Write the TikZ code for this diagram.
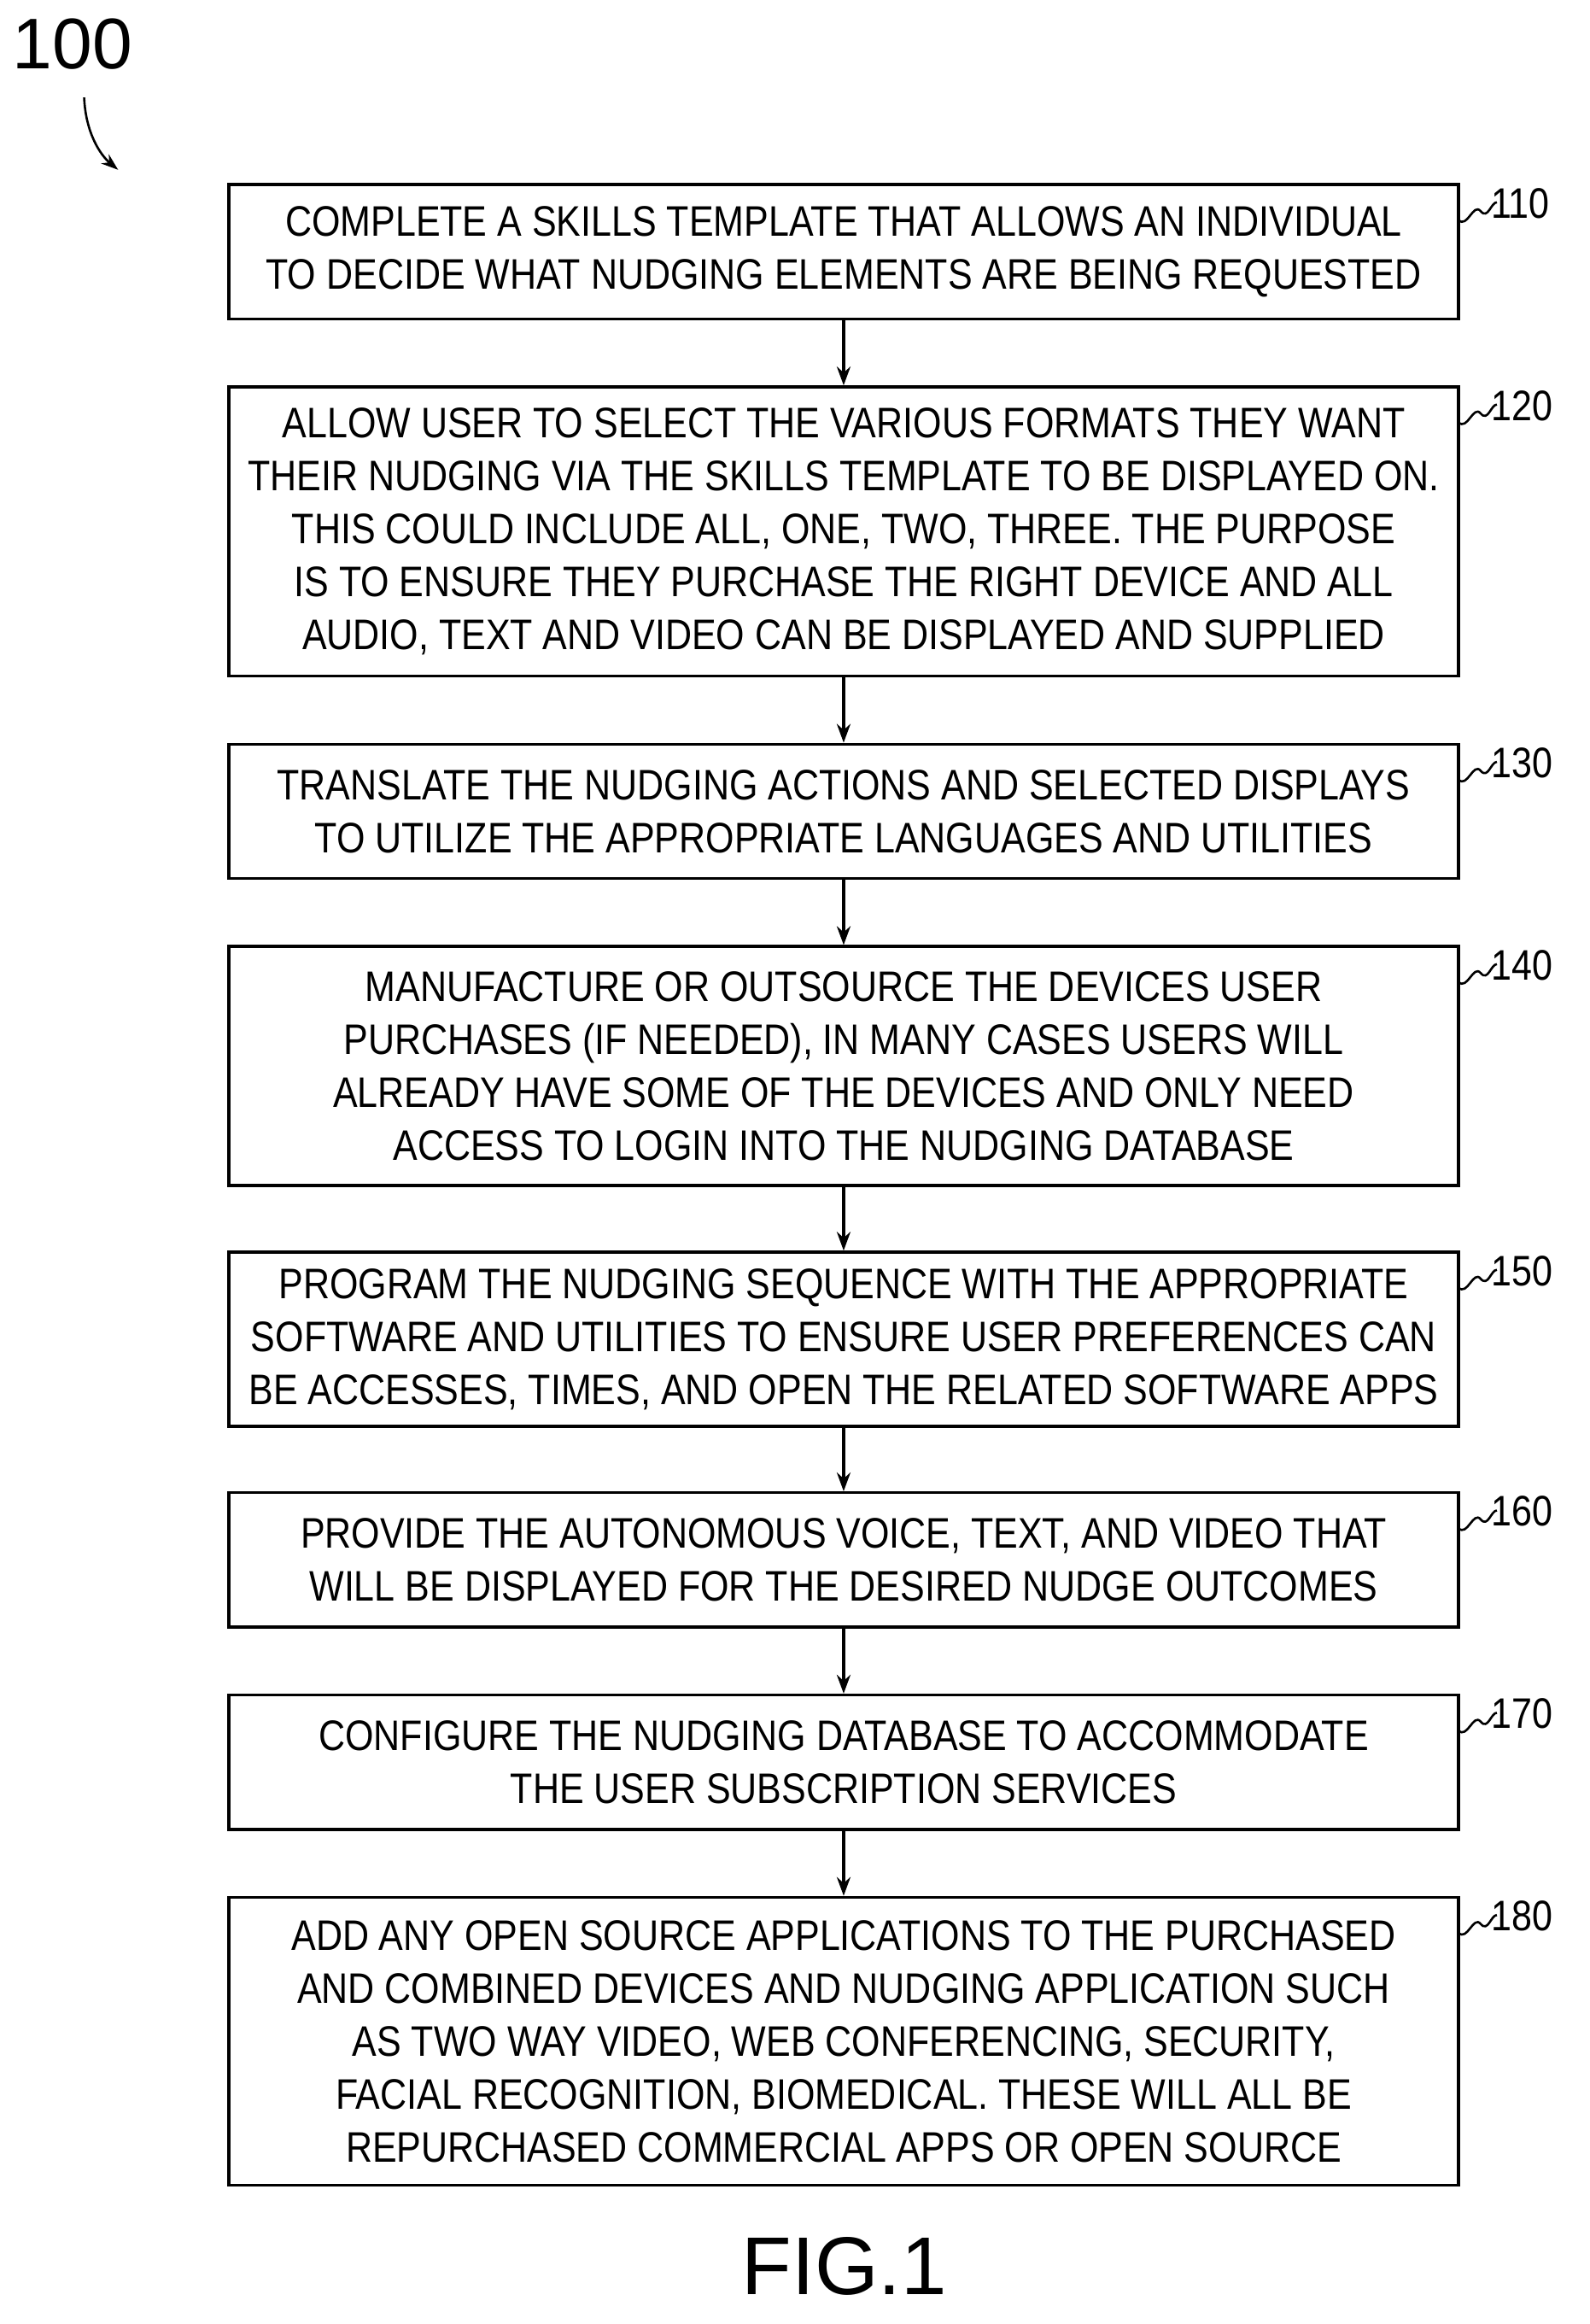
\documentclass[tikz,border=0pt]{standalone}
\usepackage{fontspec}
\setmainfont{Liberation Sans}
\newfontfamily\cond[FakeStretch=0.86]{Liberation Sans}
\usetikzlibrary{arrows.meta,calc}
\begin{document}
\begin{tikzpicture}[x=1.7289pt,y=-1.7289pt,
 box/.style={draw,line width=3.4pt,minimum width=1440pt,inner sep=0pt,align=center,font=\cond\fontsize{50pt}{62pt}\selectfont},
 arr/.style={line width=3.4pt,-{Stealth[length=22pt,width=16pt]}},
 lab/.style={font=\cond\fontsize{50pt}{55pt}\selectfont,anchor=south west,inner sep=0pt},
 sq/.style={line width=2.6pt}]
\useasboundingbox (0,0) rectangle (1077,1574);
\def\B#1#2#3#4{\node[box,minimum height=#3*1.7289pt] (b#1) at (571.5,#2+#3/2) {#4};
 \coordinate (s#1) at (988,#2+24);
 \draw[sq] (s#1) .. controls (994,#2+30) and (998,#2+12) .. (1003,#2+18) .. controls (1008,#2+24) and (1010,#2+12) .. (1014,#2+12);
 \node[lab] (l#1) at (1010,#2+23) {#1};}
\B{110}{125}{91}{COMPLETE A SKILLS TEMPLATE THAT ALLOWS AN INDIVIDUAL\\TO DECIDE WHAT NUDGING ELEMENTS ARE BEING REQUESTED}
\B{120}{262}{196}{ALLOW USER TO SELECT THE VARIOUS FORMATS THEY WANT\\THEIR NUDGING VIA THE SKILLS TEMPLATE TO BE DISPLAYED ON.\\THIS COULD INCLUDE ALL, ONE, TWO, THREE. THE PURPOSE\\IS TO ENSURE THEY PURCHASE THE RIGHT DEVICE AND ALL\\AUDIO, TEXT AND VIDEO CAN BE DISPLAYED AND SUPPLIED}
\B{130}{504}{91}{TRANSLATE THE NUDGING ACTIONS AND SELECTED DISPLAYS\\TO UTILIZE THE APPROPRIATE LANGUAGES AND UTILITIES}
\B{140}{641}{162}{MANUFACTURE OR OUTSOURCE THE DEVICES USER\\PURCHASES (IF NEEDED), IN MANY CASES USERS WILL\\ALREADY HAVE SOME OF THE DEVICES AND ONLY NEED\\ACCESS TO LOGIN INTO THE NUDGING DATABASE}
\B{150}{848}{118}{PROGRAM THE NUDGING SEQUENCE WITH THE APPROPRIATE\\SOFTWARE AND UTILITIES TO ENSURE USER PREFERENCES CAN\\BE ACCESSES, TIMES, AND OPEN THE RELATED SOFTWARE APPS}
\B{160}{1011}{91}{PROVIDE THE AUTONOMOUS VOICE, TEXT, AND VIDEO THAT\\WILL BE DISPLAYED FOR THE DESIRED NUDGE OUTCOMES}
\B{170}{1148}{91}{CONFIGURE THE NUDGING DATABASE TO ACCOMMODATE\\THE USER SUBSCRIPTION SERVICES}
\B{180}{1285}{195}{ADD ANY OPEN SOURCE APPLICATIONS TO THE PURCHASED\\AND COMBINED DEVICES AND NUDGING APPLICATION SUCH\\AS TWO WAY VIDEO, WEB CONFERENCING, SECURITY,\\FACIAL RECOGNITION, BIOMEDICAL. THESE WILL ALL BE\\REPURCHASED COMMERCIAL APPS OR OPEN SOURCE}
\foreach \a/\b in {110/120,120/130,130/140,140/150,150/160,160/170,170/180}
 \draw[arr] (b\a.south) -- (b\b.north);
\node[font=\fontsize{84pt}{90pt}\selectfont] (n100) at (49,30) {100};
\coordinate (t100) at (80,115);
\draw[line width=2.6pt,-{Stealth[length=20pt,width=14pt]}] (57,66) .. controls (58,90) and (68,105) .. (t100);
\node[font=\fontsize{96pt}{100pt}\selectfont] (fig) at (572,1535) {FIG.1};
\end{tikzpicture}
\end{document}
